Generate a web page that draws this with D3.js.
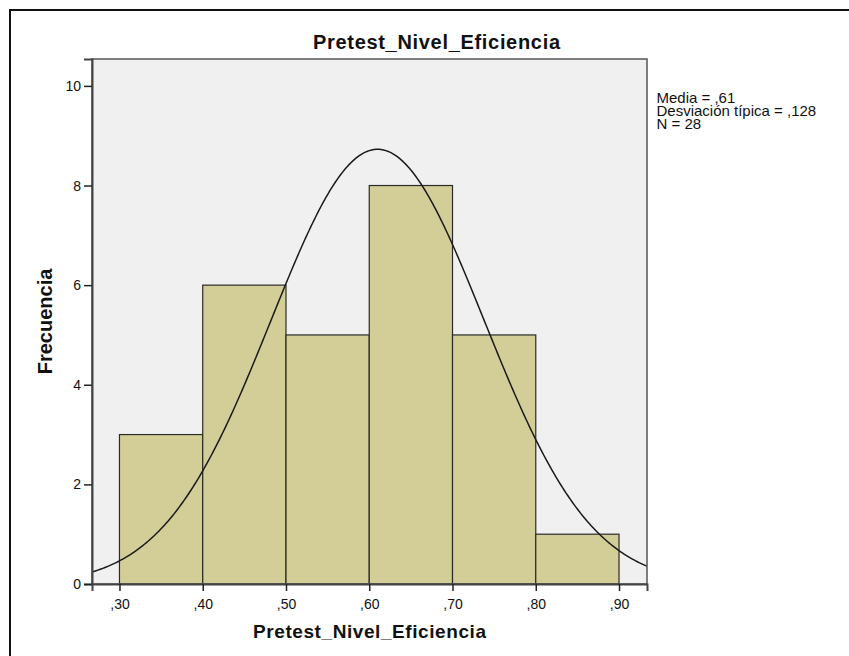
<!DOCTYPE html>
<html>
<head>
<meta charset="utf-8">
<script src="https://cdn.jsdelivr.net/npm/d3@7"></script>
<style>
  body { margin: 0; background: #fff; }
  text { font-family: "Liberation Sans", Arial, sans-serif; fill: #111; }
</style>
</head>
<body>
<div id="chart"></div>
<script>
// histogram bins (lower edge) and counts
var binStarts = [0.30, 0.40, 0.50, 0.60, 0.70, 0.80];
var binWidth = 0.10;
var counts = [3, 6, 5, 8, 5, 1];
var xTicks = [0.30, 0.40, 0.50, 0.60, 0.70, 0.80, 0.90];
var yTicks = [0, 2, 4, 6, 8, 10];
var stats = { mean: 0.61, sd: 0.128, n: 28 };
var legendLines = ['Media = ,61', 'Desviación típica = ,128', 'N = 28'];

var W = 849, H = 656;
var margin = {top: 59, left: 92, right: W - 647, bottom: H - 584};
var width = W - margin.left - margin.right,
    height = H - margin.top - margin.bottom;

var svg = d3.select('#chart').append('svg')
    .attr('width', W).attr('height', H);

// outer frame (only top and left visible in the shot)
svg.append('path')
    .attr('d', 'M10,' + (H + 5) + 'V10H' + (W + 5))
    .attr('fill', 'none').attr('stroke', '#111').attr('stroke-width', 2);

var g = svg.append('g')
    .attr('transform', 'translate(' + margin.left + ',' + margin.top + ')');

var xScale = d3.scaleLinear().domain([0.267, 0.9336]).range([0, width]);
var yScale = d3.scaleLinear().domain([0, 10.54]).range([height, 0]);

g.append('rect')
    .attr('width', width).attr('height', height)
    .attr('fill', '#f0f0f0');

g.append('defs').append('clipPath').attr('id', 'clip')
    .append('rect').attr('width', width).attr('height', height);

// bars
g.selectAll('rect.bar')
    .data(counts)
    .enter().append('rect').classed('bar', true)
    .attr('x', function(d, i) { return xScale(binStarts[i]); })
    .attr('width', function(d, i) { return xScale(binStarts[i] + binWidth) - xScale(binStarts[i]); })
    .attr('y', function(d) { return yScale(d); })
    .attr('height', function(d) { return yScale(0) - yScale(d); })
    .attr('fill', '#d3ce97')
    .attr('stroke', '#2a2a2a')
    .attr('stroke-width', 1.2);

// normal curve
var xs = d3.range(0.25, 0.95, 0.002);
var line = d3.line()
    .x(function(v) { return xScale(v); })
    .y(function(v) {
        var z = (v - stats.mean) / stats.sd;
        return yScale(stats.n * binWidth * Math.exp(-0.5 * z * z) / (stats.sd * Math.sqrt(2 * Math.PI)));
    });
g.append('path')
    .attr('d', line(xs))
    .attr('clip-path', 'url(#clip)')
    .attr('fill', 'none')
    .attr('stroke', '#1a1a1a')
    .attr('stroke-width', 1.5);

// plot frame
g.append('rect')
    .attr('width', width).attr('height', height)
    .attr('fill', 'none').attr('stroke', '#555').attr('stroke-width', 1.5);

// axes
var yAxis = d3.axisLeft(yScale).tickValues(yTicks).tickSize(8).tickPadding(3)
    .tickFormat(d3.format('d'));
var yG = g.append('g').call(yAxis);
var xAxis = d3.axisBottom(xScale).tickValues(xTicks).tickSize(7).tickPadding(8)
    .tickFormat(function(d) { return ',' + d3.format('.2f')(d).slice(2); });
var xG = g.append('g').attr('transform', 'translate(0,' + height + ')').call(xAxis);
[yG, xG].forEach(function(a) {
    a.select('.domain').attr('stroke', '#444').attr('stroke-width', 2);
    a.selectAll('.tick line').attr('stroke', '#222').attr('stroke-width', 1.5);
    a.selectAll('.tick text').style('font-size', '14px').attr('fill', '#111')
        .style('font-family', '"Liberation Sans", Arial, sans-serif');
});

// titles
svg.append('text')
    .attr('x', 436.5).attr('y', 48.5)
    .attr('text-anchor', 'middle')
    .attr('textLength', 247).attr('lengthAdjust', 'spacing')
    .style('font-size', '20px').style('font-weight', 'bold')
    .text('Pretest_Nivel_Eficiencia');
svg.append('text')
    .attr('x', margin.left + width / 2).attr('y', 638)
    .attr('text-anchor', 'middle')
    .attr('textLength', 233).attr('lengthAdjust', 'spacing')
    .style('font-size', '19px').style('font-weight', 'bold')
    .text('Pretest_Nivel_Eficiencia');
svg.append('text')
    .attr('transform', 'translate(52,' + (margin.top + height / 2) + ') rotate(-90)')
    .attr('text-anchor', 'middle')
    .style('font-size', '20px').style('font-weight', 'bold')
    .text('Frecuencia');

// stats legend
svg.selectAll('text.legend')
    .data(legendLines)
    .enter().append('text').classed('legend', true)
    .attr('x', 656.5)
    .attr('y', function(d, i) { return 102.5 + i * 13; })
    .style('font-size', '15px')
    .text(function(d) { return d; });
</script>
</body>
</html>
